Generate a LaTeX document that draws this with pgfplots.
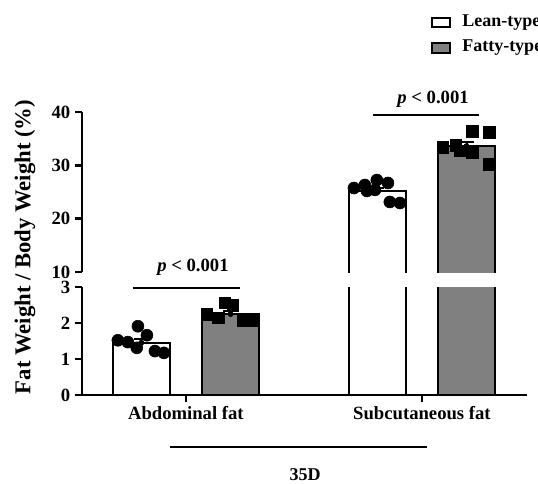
\documentclass[border=0pt]{standalone}
\usepackage{fontspec}
\setmainfont{Liberation Serif}
\usepackage{pgfplots}
\pgfplotsset{compat=1.18}
\definecolor{fatgray}{RGB}{128,128,128}
\newlength\px
\setlength\px{0.75pt}

\pgfplotsset{
  brk/.style={
    scale only axis, width=445\px, xmin=-0.44, xmax=1.445,
    axis y line*=left,
    axis line style={-, line width=2.2pt},
    tick style={line width=2pt, black},
    major tick length=7\px, tick align=outside,
    clip mode=individual,
    tick label style={font=\fontsize{14}{16}\selectfont\bfseries},
    /pgf/number format/assume math mode=true,
  },
  leanbar/.style={ybar, bar width=0.2415, bar shift=-0.189,
    draw=black, fill=white, line width=1.8pt},
  fatbar/.style={ybar, bar width=0.2415, bar shift=0.189,
    draw=black, fill=fatgray, line width=1.8pt},
  errs/.style={only marks, mark=none, black,
    error bars/.cd, y dir=plus, y explicit,
    error bar style={line width=1.5pt, black},
    error mark options={rotate=90, line width=1.5pt, mark size=7\px, black}},
  dots/.style={only marks, black, mark=*, mark size=6\px},
  sqrs/.style={only marks, black, mark=square*, mark size=5.8\px},
}

\begin{document}
\begin{tikzpicture}

% lower part, 0..3
\begin{axis}[brk, height=108\px, ymin=0, ymax=3, ytick={0,1,2,3},
  axis x line*=bottom, xtick={0,1},
  xticklabels={Abdominal fat, Subcutaneous fat}]
\addplot[leanbar] coordinates {(0,1.45) (1,25.2)};
\addplot[fatbar] coordinates {(0,2.25) (1,33.6)};
\addplot[errs] coordinates {(-0.189,1.45) +- (0,0.10) (0.189,2.25) +- (0,0.07)};
\addplot[dots] coordinates {(-0.288,1.52) (-0.246,1.47) (-0.208,1.31) (-0.203,1.91)
  (-0.165,1.66) (-0.131,1.22) (-0.093,1.17)};
\addplot[sqrs] coordinates {(0.089,2.25) (0.136,2.14) (0.165,2.56) (0.199,2.50)
  (0.242,2.08) (0.284,2.06)};
\draw[line width=1.5pt] (axis cs:-0.225,2.97) -- (axis cs:0.229,2.97);
\node[font=\fontsize{14}{16}\selectfont\bfseries] at (axis cs:0.03,3.56) {\textit{p} < 0.001};
\end{axis}

% upper part, 10..40 (bars open at the break)
\begin{axis}[brk, at={(0,123\px)}, height=160\px, ymin=10, ymax=40,
  ytick={10,20,30,40}, axis x line=none, xtick=\empty]
\addplot[fill=white, draw=black, line width=1.8pt]
  coordinates {(0.690,5) (0.690,25.2) (0.932,25.2) (0.932,5)};
\addplot[fill=fatgray, draw=black, line width=1.8pt]
  coordinates {(1.068,5) (1.068,33.6) (1.310,33.6) (1.310,5)};
\addplot[errs] coordinates {(0.811,25.2) +- (0,0.55) (1.189,33.6) +- (0,0.85)};
\addplot[dots] coordinates {(0.712,25.75) (0.758,26.31) (0.767,25.2) (0.809,27.25)
  (0.801,25.4) (0.856,26.69) (0.864,23.13) (0.907,22.94)};
\addplot[sqrs] coordinates {(1.089,33.44) (1.144,33.81) (1.161,32.7) (1.212,32.5)
  (1.212,36.44) (1.284,36.25) (1.284,30.25)};
\draw[line width=1.5pt] (axis cs:0.792,39.4) -- (axis cs:1.24,39.4);
\node[font=\fontsize{14}{16}\selectfont\bfseries] at (axis cs:1.047,42.3) {\textit{p} < 0.001};
\end{axis}

% y label
\node[rotate=90, font=\fontsize{17}{20}\selectfont\bfseries] at (-57\px,148\px)
  {Fat Weight / Body Weight (\%)};

% group bracket
\draw[line width=2.2pt] (88\px,-52\px) -- (345\px,-52\px);
\node[font=\fontsize{13.5}{16}\selectfont\bfseries] at (223\px,-80\px) {35D};

% legend
\draw[line width=1.5pt, fill=white] (350\px,368\px) rectangle (368\px,377\px);
\draw[line width=1.5pt, fill=fatgray] (350\px,342\px) rectangle (368\px,352\px);
\node[anchor=west, inner sep=0pt, font=\fontsize{13.5}{16}\selectfont\bfseries]
  at (380\px,372.5\px) {Lean-type};
\node[anchor=west, inner sep=0pt, font=\fontsize{13.5}{16}\selectfont\bfseries]
  at (380\px,347\px) {Fatty-type};

\pgfresetboundingbox
\useasboundingbox (-82\px,-88\px) rectangle (456\px,395\px);
\end{tikzpicture}
\end{document}
